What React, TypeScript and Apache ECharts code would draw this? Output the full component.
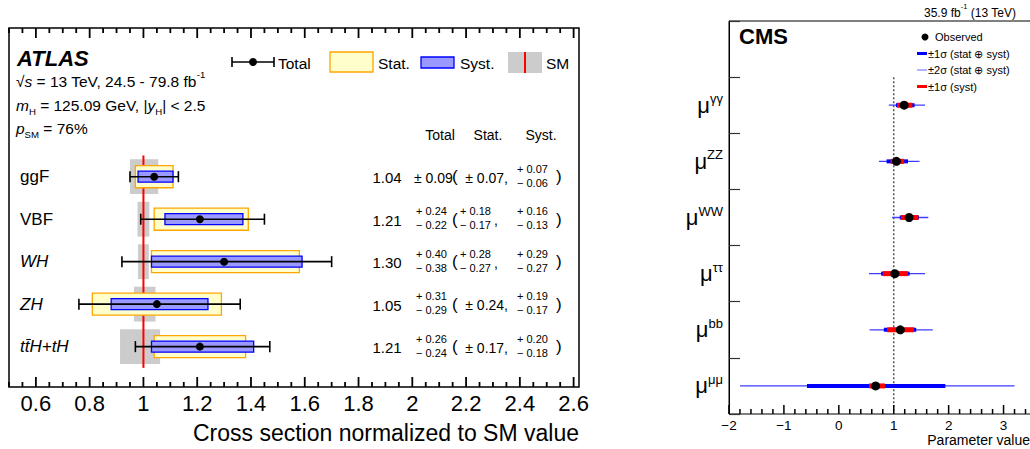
import React, { useEffect, useRef } from "react";
import * as echarts from "echarts";

const FONT = "'Liberation Sans', Arial, Helvetica, sans-serif";

// ---------------- ATLAS data ----------------
const atlasProcesses = ["ggF", "VBF", "WH", "ZH", "tt\u0304H+tH"];
const atlasItalic = [false, false, true, true, true];
const atlasCentral = [1.04, 1.21, 1.3, 1.05, 1.21];
const atlasTotalUp = [0.09, 0.24, 0.4, 0.31, 0.26];
const atlasTotalDown = [0.09, 0.22, 0.38, 0.29, 0.24];
const atlasStatUp = [0.07, 0.18, 0.28, 0.24, 0.17];
const atlasStatDown = [0.07, 0.17, 0.27, 0.24, 0.17];
const atlasSystUp = [0.07, 0.16, 0.29, 0.19, 0.2];
const atlasSystDown = [0.06, 0.13, 0.27, 0.17, 0.18];
const atlasSmUp = [0.055, 0.022, 0.02, 0.045, 0.062];
const atlasSmDown = [0.05, 0.022, 0.02, 0.035, 0.087];
const atlasTicks = [0.6, 0.8, 1, 1.2, 1.4, 1.6, 1.8, 2, 2.2, 2.4, 2.6];
const smValue = 1;

// ---------------- CMS data ----------------
const cmsChannels = ["γγ", "ZZ", "WW", "ττ", "bb", "μμ"];
const cmsMu = [1.19, 1.05, 1.28, 1.02, 1.12, 0.67];
const cms1Lo = [1.04, 0.87, 1.11, 0.77, 0.82, -0.58];
const cms1Hi = [1.38, 1.26, 1.46, 1.29, 1.41, 1.94];
const cms2Lo = [0.91, 0.73, 0.97, 0.55, 0.56, -1.8];
const cms2Hi = [1.57, 1.47, 1.63, 1.57, 1.71, 3.2];
const cmsSystLo = [1.06, 0.945, 1.13, 0.8, 0.88, 0.55];
const cmsSystHi = [1.34, 1.19, 1.45, 1.26, 1.37, 0.84];
const cmsTicks = [-2, -1, 0, 1, 2, 3];

const ATLAS_MIN = 0.5;
const ATLAS_MAX = 2.62;
const ATLAS_YMIN = -3.5;
const ATLAS_YMAX = 4.95;

const atlasMinor: number[] = [];
for (let k = 10; k <= 52; k++) {
  if ((k * 5) % 20 !== 0) atlasMinor.push(Math.round(k * 5) / 100);
}
const cmsMinor: number[] = [];
for (let k = -10; k <= 17; k++) {
  if (k % 5 !== 0) cmsMinor.push(Math.round(k * 2) / 10);
}

const fmt = (v: number) => v.toFixed(2);
const MINUS = "\u2212";

function txt(x: number, y: number, text: string, size: number, opts: any = {}) {
  const align = opts.align || "left";
  const va = opts.va || "middle";
  return {
    type: "text",
    x,
    y,
    silent: true,
    style: {
      text,
      fontSize: size,
      fontFamily: FONT,
      fontStyle: opts.italic ? "italic" : "normal",
      fontWeight: opts.bold ? "bold" : "normal",
      fill: opts.fill || "#000",
      textAlign: align,
      align,
      textVerticalAlign: va,
      verticalAlign: va,
      rich: opts.rich,
    },
  };
}

const richBase = (size: number) => ({
  n: { fontSize: size, fontFamily: FONT, lineHeight: size + 8, fill: "#000" },
  i: { fontSize: size, fontFamily: FONT, fontStyle: "italic", lineHeight: size + 8, fill: "#000" },
  sup: { fontSize: size * 0.62, fontFamily: FONT, lineHeight: size * 0.62, verticalAlign: "top", textVerticalAlign: "top", fill: "#000" },
  sub: { fontSize: size * 0.62, fontFamily: FONT, lineHeight: size * 0.62, verticalAlign: "bottom", textVerticalAlign: "bottom", fill: "#000" },
});

function buildOption() {
  const gridA = { left: 9, top: 28, width: 570, height: 359 };
  const gridC = { left: 729, top: 21, width: 302, height: 393 };

  const xAxes: any[] = [
    {
      gridIndex: 0, type: "value", min: ATLAS_MIN, max: ATLAS_MAX, position: "bottom",
      axisLine: { show: false, onZero: false }, splitLine: { show: false }, axisTick: { show: false },
      axisLabel: {
        fontFamily: FONT, color: "#000", fontSize: 22, margin: 5, customValues: atlasTicks,
        formatter: (v: number) => String(v),
      },
    },
    {
      gridIndex: 1, type: "value", min: -2, max: 3.5, position: "bottom",
      axisLine: { show: false, onZero: false }, splitLine: { show: false }, axisTick: { show: false },
      axisLabel: {
        fontFamily: FONT, color: "#000", fontSize: 13.5, margin: 4, customValues: cmsTicks,
        formatter: (v: number) => (v < 0 ? MINUS + Math.abs(v) : String(v)),
      },
    },
  ];

  const yAxes: any[] = [
    { gridIndex: 0, type: "value", inverse: true, min: ATLAS_YMIN, max: ATLAS_YMAX, show: false },
    {
      gridIndex: 1, type: "category", inverse: true, data: ["", ...cmsChannels],
      axisLine: { show: true, onZero: false, lineStyle: { color: "#000", width: 1 } },
      axisTick: { show: true, inside: true, length: 11, interval: 0, lineStyle: { color: "#333", width: 1.2 } },
      splitLine: { show: false },
      axisLabel: {
        interval: 0, margin: 6,
        formatter: (v: string) => (v ? `{m|μ}{s|${v}}` : ""),
        rich: {
          m: { fontSize: 22, fontFamily: FONT, color: "#000", lineHeight: 26 },
          s: { fontSize: 13, fontFamily: FONT, color: "#000", lineHeight: 13, verticalAlign: "top" },
        },
      },
    },
  ];

  const atlasRows = atlasCentral.map((c, i) => [c, i]);
  const cmsRows = cmsMu.map((m, i) => [m, i + 1]);

  const atlasTickValues = [...atlasTicks, ...atlasMinor];
  const cmsTickValues = [...cmsTicks, ...cmsMinor];

  const series: any[] = [
    // ATLAS ticks (bottom and top, pointing inward)
    {
      type: "custom", xAxisIndex: 0, yAxisIndex: 0, z: 10, silent: true,
      data: atlasTickValues.map((v) => [v, 0]),
      renderItem: (params: any, api: any) => {
        const v = atlasTickValues[params.dataIndex];
        const len = params.dataIndex < atlasTicks.length ? 10 : 5;
        const x = api.coord([v, 0])[0];
        const yb = api.coord([v, ATLAS_YMAX])[1];
        const yt = api.coord([v, ATLAS_YMIN])[1];
        return {
          type: "group",
          children: [
            { type: "rect", shape: { x: x - 0.9, y: yb - len, width: 1.8, height: len }, style: { fill: "#000" } },
            { type: "rect", shape: { x: x - 0.9, y: yt, width: 1.8, height: len }, style: { fill: "#000" } },
          ],
        };
      },
    },
    // SM theory bands
    {
      type: "custom", xAxisIndex: 0, yAxisIndex: 0, z: 2, silent: true, data: atlasRows,
      renderItem: (params: any, api: any) => {
        const i = params.dataIndex;
        const h = api.size([0, 1])[1];
        const y = api.coord([smValue, i])[1];
        const x0 = api.coord([smValue - atlasSmDown[i], i])[0];
        const x1 = api.coord([smValue + atlasSmUp[i], i])[0];
        return {
          type: "rect",
          shape: { x: x0, y: y - 0.41 * h, width: x1 - x0, height: 0.82 * h },
          style: { fill: "#cccccc" },
        };
      },
    },
    // SM line
    {
      type: "line", xAxisIndex: 0, yAxisIndex: 0, z: 3, silent: true, symbol: "none",
      data: [[smValue, -0.5], [smValue, atlasProcesses.length - 0.5]],
      lineStyle: { color: "#ff0000", width: 2 },
    },
    // boxes, error bars, points
    {
      type: "custom", xAxisIndex: 0, yAxisIndex: 0, z: 4, silent: true, data: atlasRows,
      renderItem: (params: any, api: any) => {
        const i = params.dataIndex;
        const c = atlasCentral[i];
        const h = api.size([0, 1])[1];
        const y = api.coord([c, i])[1];
        const px = (v: number) => api.coord([v, i])[0];
        const rect = (lo: number, hi: number, half: number, fill: string, stroke: string) => ({
          type: "rect",
          shape: { x: px(lo), y: y - half * h, width: px(hi) - px(lo), height: 2 * half * h },
          style: { fill, stroke, lineWidth: 1.3 },
        });
        const xl = px(c - atlasTotalDown[i]);
        const xr = px(c + atlasTotalUp[i]);
        const cap = 0.13 * h;
        const ls = { stroke: "#000", lineWidth: 1.6 };
        return {
          type: "group",
          children: [
            rect(c - atlasStatDown[i], c + atlasStatUp[i], 0.26, "#ffffcc", "#ffa500"),
            rect(c - atlasSystDown[i], c + atlasSystUp[i], 0.13, "#9999ff", "#0000ff"),
            { type: "line", shape: { x1: xl, y1: y, x2: xr, y2: y }, style: ls },
            { type: "line", shape: { x1: xl, y1: y - cap, x2: xl, y2: y + cap }, style: ls },
            { type: "line", shape: { x1: xr, y1: y - cap, x2: xr, y2: y + cap }, style: ls },
            { type: "circle", shape: { cx: px(c), cy: y, r: 4 }, style: { fill: "#000" } },
          ],
        };
      },
    },
    // labels & numbers table
    {
      type: "custom", xAxisIndex: 0, yAxisIndex: 0, z: 5, silent: true, data: atlasRows,
      renderItem: (params: any, api: any) => {
        const i = params.dataIndex;
        const y = api.coord([atlasCentral[i], i])[1];
        const ch: any[] = [];
        ch.push(txt(20, y, atlasProcesses[i], 17, { italic: atlasItalic[i] }));
        ch.push(txt(387, y + 1, fmt(atlasCentral[i]), 15, { align: "center" }));
        const stacked = (x: number, up: number, dn: number) => {
          ch.push(txt(x, y - 8, "+ " + fmt(up), 11));
          ch.push(txt(x, y + 6, MINUS + " " + fmt(dn), 11));
        };
        if (atlasTotalUp[i] === atlasTotalDown[i]) ch.push(txt(414, y + 1, "± " + fmt(atlasTotalUp[i]), 14));
        else stacked(416, atlasTotalUp[i], atlasTotalDown[i]);
        ch.push(txt(452, y, "(", 17));
        if (atlasStatUp[i] === atlasStatDown[i]) ch.push(txt(508, y + 1, "± " + fmt(atlasStatUp[i]) + ",", 14, { align: "right" }));
        else {
          stacked(460, atlasStatUp[i], atlasStatDown[i]);
          ch.push(txt(494, y + 1, ",", 14));
        }
        if (atlasSystUp[i] === atlasSystDown[i]) ch.push(txt(517, y + 1, "± " + fmt(atlasSystUp[i]), 14));
        else stacked(517, atlasSystUp[i], atlasSystDown[i]);
        ch.push(txt(556, y, ")", 17));
        return { type: "group", children: ch };
      },
    },
    // CMS x ticks (bottom, inward)
    {
      type: "custom", xAxisIndex: 1, yAxisIndex: 1, z: 10, silent: true,
      data: cmsTickValues.map((v) => [v, 1]),
      renderItem: (params: any, api: any) => {
        const v = cmsTickValues[params.dataIndex];
        const len = params.dataIndex < cmsTicks.length ? 9 : 5;
        const half = api.size([0, 1])[1] / 2;
        const x = api.coord([v, 1])[0];
        const yb = api.coord([v, cmsChannels.length])[1] + half;
        return {
          type: "rect",
          shape: { x: x - 0.75, y: yb - len, width: 1.5, height: len },
          style: { fill: "#000" },
        };
      },
    },
    // CMS dotted SM line
    {
      type: "custom", xAxisIndex: 1, yAxisIndex: 1, z: 2, silent: true, data: [[smValue, 1]],
      renderItem: (params: any, api: any) => {
        const half = api.size([0, 1])[1] / 2;
        const x = api.coord([smValue, 1])[0];
        const top = api.coord([smValue, 1])[1] - half;
        const bot = api.coord([smValue, cmsChannels.length])[1] + half;
        return {
          type: "line",
          shape: { x1: x, y1: top, x2: x, y2: bot },
          style: { stroke: "#555", lineWidth: 1.5, lineDash: [2, 2] },
        };
      },
    },
    // CMS measurements
    {
      type: "custom", xAxisIndex: 1, yAxisIndex: 1, z: 4, silent: true, data: cmsRows,
      renderItem: (params: any, api: any) => {
        const i = params.dataIndex;
        const y = api.coord([cmsMu[i], i + 1])[1];
        const px = (v: number) => api.coord([v, i + 1])[0];
        const seg = (lo: number, hi: number, color: string, w: number) => ({
          type: "line",
          shape: { x1: px(lo), y1: y, x2: px(hi), y2: y },
          style: { stroke: color, lineWidth: w },
        });
        return {
          type: "group",
          children: [
            seg(cms2Lo[i], cms2Hi[i], "#3d3dff", 1.3),
            seg(cms1Lo[i], cms1Hi[i], "#0000ff", 4),
            seg(cmsSystLo[i], cmsSystHi[i], "#ff0000", 5),
            { type: "circle", shape: { cx: px(cmsMu[i]), cy: y, r: 4.5 }, style: { fill: "#000" } },
          ],
        };
      },
    },
  ];

  const rb = richBase(15.5);
  const graphic: any[] = [
    txt(17, 58, "ATLAS", 22, { bold: true, italic: true }),
    txt(16, 81, "{n|√}{i|s}{n| = 13 TeV, 24.5 - 79.8 fb}{sup|-1}", 15.5, { rich: rb }),
    txt(16, 105, "{i|m}{sub|H}{n| = 125.09 GeV, |}{i|y}{sub|H}{n|| < 2.5}", 15.5, { rich: rb }),
    txt(16, 128, "{i|p}{sub|SM}{n| = 76%}", 15.5, { rich: rb }),
    { type: "line", shape: { x1: 232, y1: 62, x2: 274, y2: 62 }, style: { stroke: "#000", lineWidth: 1.6 } },
    { type: "line", shape: { x1: 232, y1: 57, x2: 232, y2: 67 }, style: { stroke: "#000", lineWidth: 1.6 } },
    { type: "line", shape: { x1: 274, y1: 57, x2: 274, y2: 67 }, style: { stroke: "#000", lineWidth: 1.6 } },
    { type: "circle", shape: { cx: 253, cy: 62, r: 4 }, style: { fill: "#000" } },
    txt(278, 63, "Total", 15.5),
    { type: "rect", shape: { x: 330, y: 52, width: 43, height: 20 }, style: { fill: "#ffffcc", stroke: "#ffa500", lineWidth: 1.3 } },
    txt(378, 63, "Stat.", 15.5),
    { type: "rect", shape: { x: 421, y: 57, width: 33, height: 11 }, style: { fill: "#9999ff", stroke: "#0000ff", lineWidth: 1.3 } },
    txt(460, 63, "Syst.", 15.5),
    { type: "rect", shape: { x: 508, y: 52, width: 34, height: 21 }, style: { fill: "#cccccc" } },
    { type: "line", shape: { x1: 525, y1: 52, x2: 525, y2: 73 }, style: { stroke: "#ff0000", lineWidth: 2 } },
    txt(546, 63, "SM", 15.5),
    txt(440, 135, "Total", 14, { align: "center" }),
    txt(488, 135, "Stat.", 14, { align: "center" }),
    txt(541, 135, "Syst.", 14, { align: "center" }),
    txt(579, 433, "Cross section normalized to SM value", 23, { align: "right" }),
    txt(1016, 13, "{n|35.9 fb}{sup|-1}{n| (13 TeV)}", 12, { align: "right", rich: richBase(12) }),
    txt(739, 36, "CMS", 22, { bold: true }),
    { type: "circle", shape: { cx: 925, cy: 37, r: 3.5 }, style: { fill: "#000" } },
    txt(935, 37, "Observed", 11),
    { type: "line", shape: { x1: 917, y1: 53.5, x2: 927, y2: 53.5 }, style: { stroke: "#0000ff", lineWidth: 3 } },
    txt(928, 53.5, "±1σ (stat ⊕ syst)", 11),
    { type: "line", shape: { x1: 917, y1: 70, x2: 927, y2: 70 }, style: { stroke: "#9999ff", lineWidth: 1.5 } },
    txt(928, 70, "±2σ (stat ⊕ syst)", 11),
    { type: "line", shape: { x1: 917, y1: 86.5, x2: 927, y2: 86.5 }, style: { stroke: "#ff0000", lineWidth: 3 } },
    txt(928, 86.5, "±1σ (syst)", 11),
    txt(1030, 440, "Parameter value", 14, { align: "right" }),
  ];

  return {
    animation: false,
    backgroundColor: "#ffffff",
    textStyle: { fontFamily: FONT },
    grid: [
      { ...gridA, show: true, borderColor: "#000", borderWidth: 1.5, backgroundColor: "transparent", outerBoundsMode: "none" },
      { ...gridC, show: true, borderColor: "#000", borderWidth: 1, backgroundColor: "transparent", outerBoundsMode: "none" },
    ],
    xAxis: xAxes,
    yAxis: yAxes,
    series,
    graphic,
  };
}

export default function App() {
  const ref = useRef<HTMLDivElement>(null);
  useEffect(() => {
    document.body.style.margin = "0";
    const chart = echarts.init(ref.current!, null, { renderer: "svg" });
    chart.setOption(buildOption() as any);
    return () => chart.dispose();
  }, []);
  return <div ref={ref} style={{ width: 1030, height: 449, background: "#fff" }} />;
}
